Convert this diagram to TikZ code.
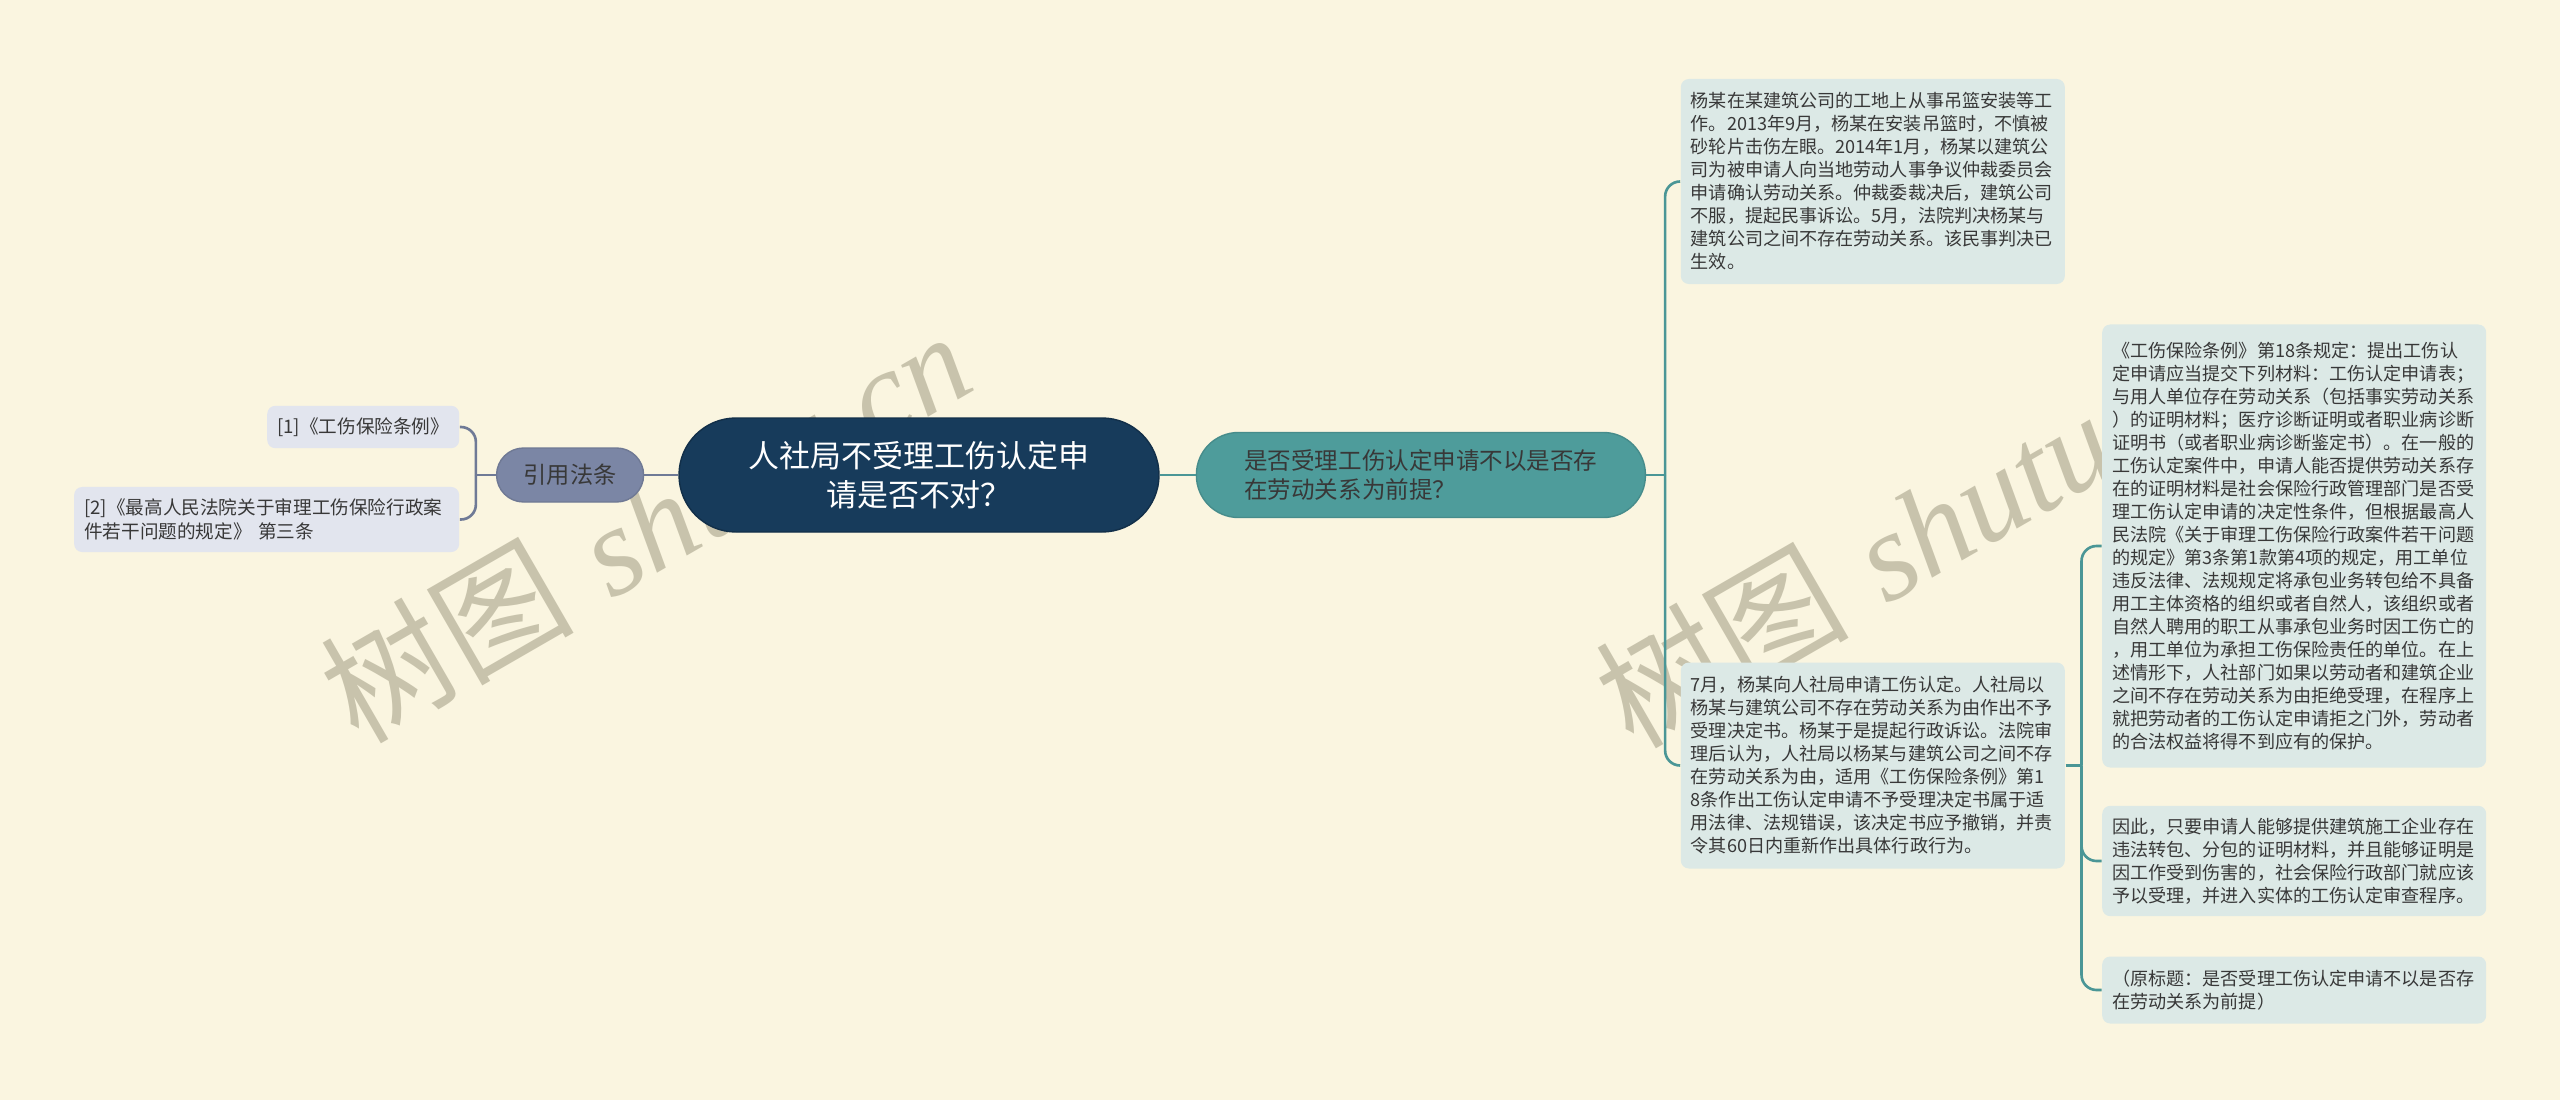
\documentclass[tikz,border=0pt]{standalone}
\usepackage{fontspec}
\usepackage{xcolor}
\usepackage{tikz}
\usetikzlibrary{positioning, shapes.geometric}
\usetikzlibrary{calc}
\newfontfamily\cjk{Noto Sans CJK SC}
\newfontfamily\markfont{Liberation Serif}
\definecolor{bgcream}{HTML}{FAF5E0}
\definecolor{rootblue}{HTML}{173B5B}
\definecolor{citegray}{HTML}{7B86A5}
\definecolor{lawfill}{HTML}{E2E5EE}
\definecolor{citeline}{HTML}{6F7A96}
\definecolor{branchteal}{HTML}{4E9C9B}
\definecolor{tealline}{HTML}{4A9696}
\definecolor{factfill}{HTML}{DCE9E6}
\definecolor{txtgray}{HTML}{383838}
\definecolor{markgray}{HTML}{A09B82}
\tikzstyle{root} = [rectangle, rounded corners=0.57cm, minimum width=4.8cm, minimum height=1.14cm, fill=rootblue, draw=rootblue!80!black, text=white, align=center, font=\cjk\fontsize{8.8}{11.1}\selectfont]
\tikzstyle{cite} = [rectangle, rounded corners=0.27cm, minimum width=1.47cm, minimum height=0.54cm, fill=citegray, draw=citegray!90!black, text=txtgray, font=\cjk\fontsize{6.6}{8}\selectfont]
\tikzstyle{lawbox} = [rectangle, rounded corners=0.08cm, fill=lawfill, text=txtgray, align=left, inner xsep=0.1cm, font=\cjk\fontsize{5.3}{6.9}\selectfont]
\tikzstyle{branch} = [rectangle, rounded corners=0.42cm, minimum width=4.49cm, minimum height=0.85cm, fill=branchteal, draw=branchteal!90!black, text=txtgray, align=left, font=\cjk\fontsize{6.7}{8.25}\selectfont]
\tikzstyle{factbox} = [rectangle, rounded corners=0.08cm, fill=factfill, text=txtgray, align=left, text width=3.64cm, inner xsep=0.1cm, inner ysep=0.12cm, font=\cjk\fontsize{5.15}{6.55}\selectfont]
\tikzstyle{lawlink} = [draw=citeline, line width=0.75pt]
\tikzstyle{tealink} = [draw=tealline, line width=0.75pt]
\tikzstyle{watermark} = [rotate=30, text=markgray, opacity=0.55, font=\fontsize{36}{36}\selectfont]

\begin{document}
\begin{tikzpicture}
		\useasboundingbox (0,0) rectangle (25.6,-11);
		\fill[bgcream] (0,0) rectangle (25.6,-11);
		\node (mark1) [watermark] at (6.45,-5.25) {{\cjk 树图} {\markfont\itshape shutu.cn}};
		\node (mark2) [watermark] at (19.2,-5.3) {{\cjk 树图} {\markfont\itshape shutu.cn}};
		
		\node (root) [root] at (9.19,-4.75) {人社局不受理工伤认定申\\请是否不对？};
		\node (cite) [cite, left=0.34cm of root] {引用法条};
		\node (law1) [lawbox, minimum width=1.86cm, minimum height=0.4cm, left=0.36cm of cite, yshift=0.48cm] {[1]《工伤保险条例》};
		\node (law2) [lawbox, text width=3.65cm, minimum height=0.65cm, left=0.36cm of cite, yshift=-0.445cm] {[2]《最高人民法院关于审理工伤保险行政案\\件若干问题的规定》 第三条};
		
		\node (branch) [branch, right=0.36cm of root] {是否受理工伤认定申请不以是否存\\在劳动关系为前提？};
		\node (fact1) [factbox, minimum height=2.05cm, right=0.34cm of branch, yshift=2.935cm] {杨某在某建筑公司的工地上从事吊篮安装等工\\作。2013年9月，杨某在安装吊篮时，不慎被\\砂轮片击伤左眼。2014年1月，杨某以建筑公\\司为被申请人向当地劳动人事争议仲裁委员会\\申请确认劳动关系。仲裁委裁决后，建筑公司\\不服，提起民事诉讼。5月，法院判决杨某与\\建筑公司之间不存在劳动关系。该民事判决已\\生效。};
		\node (fact2) [factbox, minimum height=2.06cm, right=0.34cm of branch, yshift=-2.905cm] {7月，杨某向人社局申请工伤认定。人社局以\\杨某与建筑公司不存在劳动关系为由作出不予\\受理决定书。杨某于是提起行政诉讼。法院审\\理后认为，人社局以杨某与建筑公司之间不存\\在劳动关系为由，适用《工伤保险条例》第1\\8条作出工伤认定申请不予受理决定书属于适\\用法律、法规错误，该决定书应予撤销，并责\\令其60日内重新作出具体行政行为。};
		\node (fact3) [factbox, minimum height=4.43cm, right=0.36cm of fact2, yshift=2.195cm] {《工伤保险条例》第18条规定：提出工伤认\\定申请应当提交下列材料：工伤认定申请表；\\与用人单位存在劳动关系（包括事实劳动关系\\）的证明材料；医疗诊断证明或者职业病诊断\\证明书（或者职业病诊断鉴定书）。在一般的\\工伤认定案件中，申请人能否提供劳动关系存\\在的证明材料是社会保险行政管理部门是否受\\理工伤认定申请的决定性条件，但根据最高人\\民法院《关于审理工伤保险行政案件若干问题\\的规定》第3条第1款第4项的规定，用工单位\\违反法律、法规规定将承包业务转包给不具备\\用工主体资格的组织或者自然人，该组织或者\\自然人聘用的职工从事承包业务时因工伤亡的\\，用工单位为承担工伤保险责任的单位。在上\\述情形下，人社部门如果以劳动者和建筑企业\\之间不存在劳动关系为由拒绝受理，在程序上\\就把劳动者的工伤认定申请拒之门外，劳动者\\的合法权益将得不到应有的保护。};
		\node (fact4) [factbox, minimum height=1.09cm, right=0.36cm of fact2, yshift=-0.955cm] {因此，只要申请人能够提供建筑施工企业存在\\违法转包、分包的证明材料，并且能够证明是\\因工作受到伤害的，社会保险行政部门就应该\\予以受理，并进入实体的工伤认定审查程序。};
		\node (fact5) [factbox, minimum height=0.67cm, right=0.36cm of fact2, yshift=-2.245cm] {（原标题：是否受理工伤认定申请不以是否存\\在劳动关系为前提）};
		
		%连接
		\coordinate (hub0) at ($(cite.west)+(-0.2,0)$);
		\coordinate (hub1) at ($(branch.east)+(0.19,0)$);
		\coordinate (hub2) at ($(fact2.east)+(0.16,0)$);
		\draw [lawlink](root) -- (cite);
		\draw [lawlink](cite.west) -- (hub0);
		\draw [lawlink, rounded corners=0.15cm](hub0) |- (law1.east);
		\draw [lawlink, rounded corners=0.15cm](hub0) |- (law2.east);
		\draw [tealink](root) -- (branch);
		\draw [tealink](branch.east) -- (hub1);
		\draw [tealink, rounded corners=0.15cm](hub1) |- (fact1.west);
		\draw [tealink, rounded corners=0.15cm](hub1) |- (fact2.west);
		\draw [tealink](fact2.east) -- (hub2);
		\draw [tealink, rounded corners=0.15cm](hub2) |- (fact3.west);
		\draw [tealink, rounded corners=0.15cm](hub2) |- (fact4.west);
		\draw [tealink, rounded corners=0.15cm](hub2) |- (fact5.west);
	\end{tikzpicture}
\end{document}
